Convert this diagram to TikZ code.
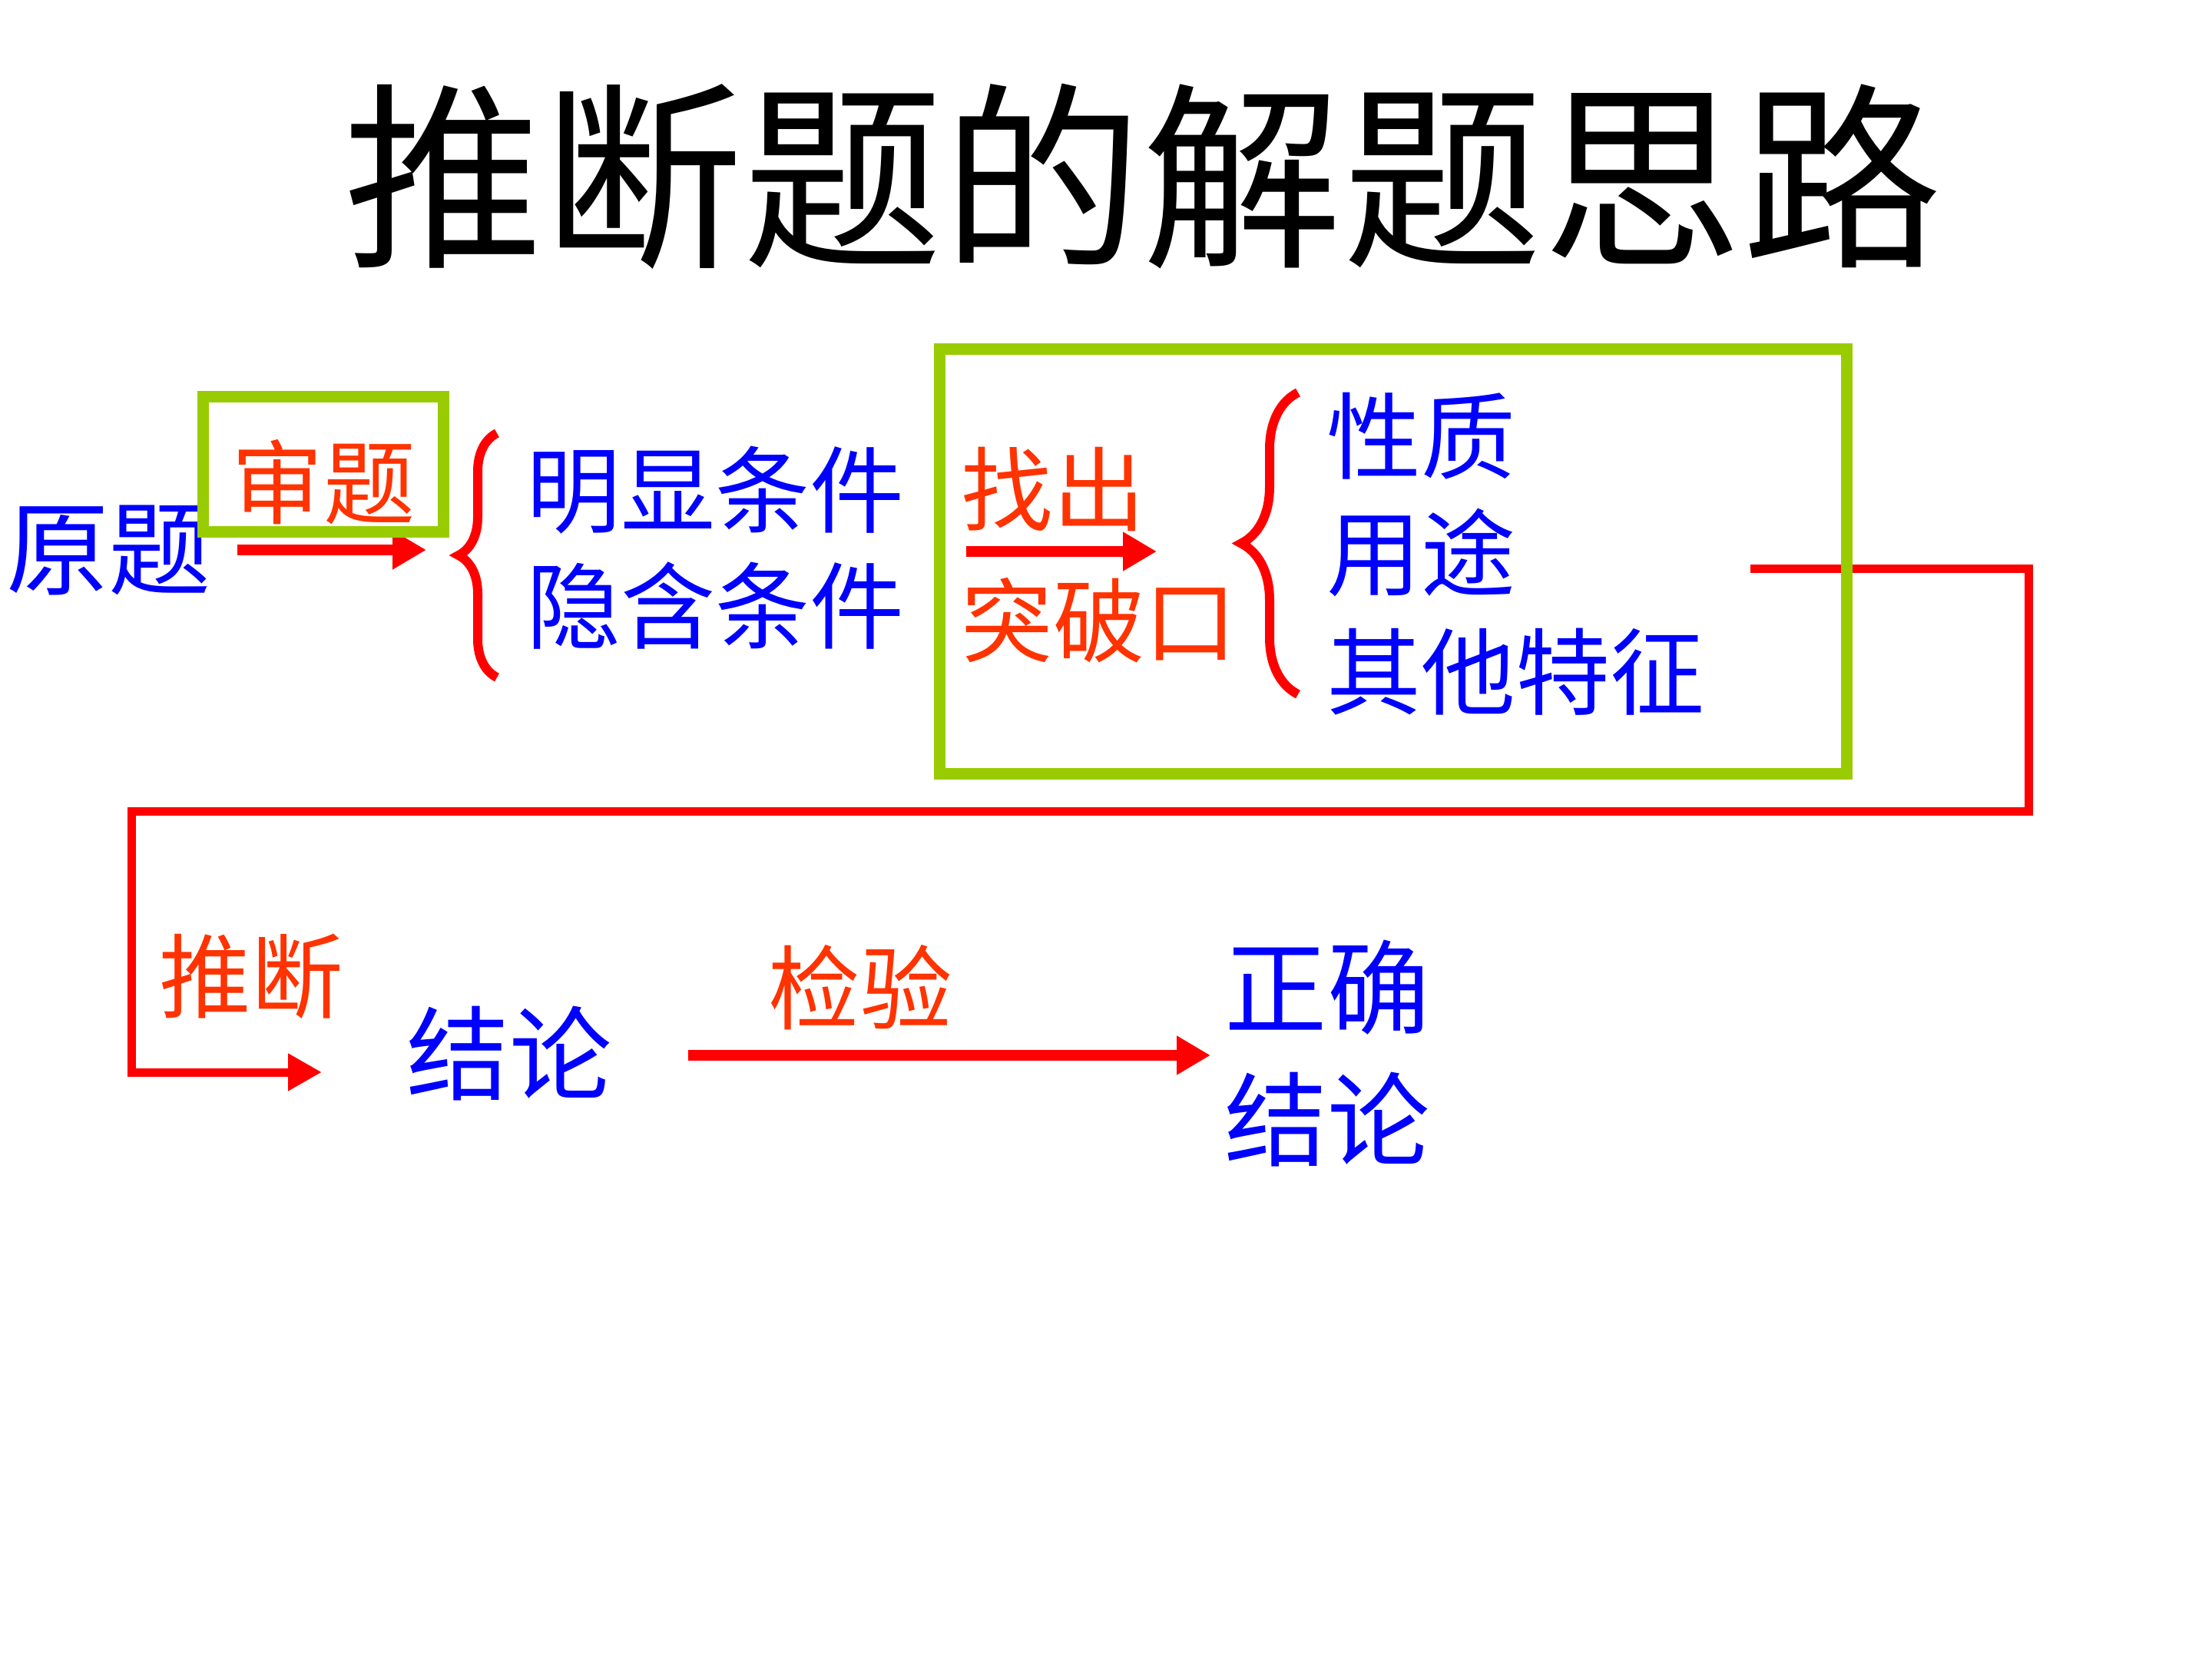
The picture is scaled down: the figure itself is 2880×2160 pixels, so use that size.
\documentclass[tikz,border=0pt]{standalone}
\usepackage{fontspec}
\newfontfamily\cjk{Noto Sans CJK SC}
\usepackage{xcolor}
\usetikzlibrary{arrows.meta,decorations.pathreplacing}
\definecolor{flowred}{HTML}{FF0000}
\definecolor{labelred}{HTML}{FF3300}
\definecolor{textblue}{HTML}{0000FF}
\definecolor{framegreen}{HTML}{99CC00}
\tikzset{
  titletext/.style={font=\cjk\fontsize{74pt}{80pt}\selectfont, text=black, inner sep=0pt},
  bluetext/.style={font=\cjk\fontsize{35pt}{42pt}\selectfont, text=textblue, inner sep=0pt},
  bigblue/.style={font=\cjk\fontsize{38pt}{44pt}\selectfont, text=textblue, inner sep=0pt},
  redtext/.style={font=\cjk\fontsize{34pt}{40pt}\selectfont, text=labelred, inner sep=0pt},
  greenframe/.style={draw=framegreen, line width=1.5mm},
  flowarrow/.style={-{Triangle[length=4.4mm,width=4.8mm]}, draw=flowred, line width=1.4mm},
  loopline/.style={-{Triangle[length=4.4mm,width=4.6mm]}, draw=flowred, line width=1.1mm, line join=miter},
  condbrace/.style={decorate, draw=flowred, line width=1.2mm}
}
\begin{document}
\begin{tikzpicture}[x=0.1mm, y=-0.1mm]
  \useasboundingbox (0,0) rectangle (2880,2160);
  % title
  \node[titletext] (title) at (1488,230) {推断题的解题思路};
  % first row
  \node[bigblue] (original) at (142,716) {原题};
  \node[redtext] (examine) at (421,628) {审题};
  \node[bluetext, anchor=west] (obvious) at (685,638) {明显条件};
  \node[bluetext, anchor=west] (hidden) at (685,789) {隐含条件};
  \node[redtext, anchor=west] (findout) at (1251,637) {找出};
  \node[redtext, anchor=west] (breakpt) at (1251,808) {突破口};
  \node[bluetext, anchor=west] (property) at (1727,568) {性质};
  \node[bluetext, anchor=west] (usage) at (1727,720) {用途};
  \node[bluetext, anchor=west] (otherfeat) at (1727,875) {其他特征};
  % second row
  \node[redtext] (infer) at (327,1271) {推断};
  \node[bigblue] (concl) at (663,1372) {结论};
  \node[redtext] (verify) at (1120,1286) {检验};
  \node[bigblue, anchor=west] (correct) at (1594,1286) {正确};
  \node[bigblue, anchor=west] (finalconcl) at (1594,1458) {结论};
  % arrow ends and brace ends
  \coordinate (examstart) at (309,716);
  \coordinate (examend) at (555,716);
  \coordinate (findstart) at (1258,718);
  \coordinate (findend) at (1506,718);
  \coordinate (verstart) at (896,1374);
  \coordinate (verend) at (1576,1374);
  \coordinate (loopstart) at (2279,740);
  \coordinate (loopend) at (419,1396);
  \coordinate (condtop) at (647,564);
  \coordinate (condbot) at (647,882);
  \coordinate (kindtop) at (1690,511);
  \coordinate (kindbot) at (1690,904);
  % connectors
  \draw[flowarrow] (examstart) -- (examend);
  \draw[flowarrow] (findstart) -- (findend);
  \draw[flowarrow] (verstart) -- (verend);
  \draw[loopline] (loopstart) -- (2641,740) -- (2641,1056) -- (171,1056) -- (171,1396) -- (loopend);
  \draw[condbrace, decoration={brace, amplitude=5mm}] (condbot) -- (condtop);
  \draw[condbrace, decoration={brace, amplitude=7.4mm}] (kindbot) -- (kindtop);
  % frames
  \draw[greenframe] (264,516) rectangle (577,692);
  \draw[greenframe] (1223,454) rectangle (2404,1007);
\end{tikzpicture}
\end{document}
